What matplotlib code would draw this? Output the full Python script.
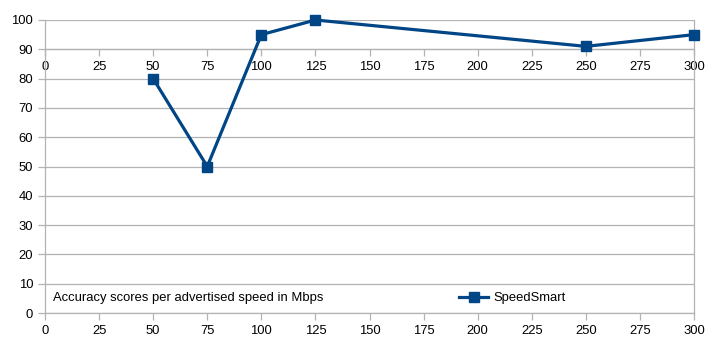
import matplotlib
matplotlib.use("Agg")
import matplotlib.pyplot as plt

plt.rcParams['font.family'] = ['Liberation Sans', 'DejaVu Sans']

speeds = [50, 75, 100, 125, 250, 300]
scores = [80, 50, 95, 100, 91, 95]
x_ticks = list(range(0, 301, 25))
y_ticks = list(range(0, 101, 10))
series_name = "SpeedSmart"
note = "Accuracy scores per advertised speed in Mbps"

color = "#004586"
grid_c = "#b3b3b3"
fs = 9.4

fig = plt.figure(figsize=(7.2, 3.45), dpi=100)
ax = fig.add_axes([45/720, 32/345, 649/720, 293/345])
ax.plot(speeds, scores, color=color, lw=2.3, marker='s', ms=7.5, label=series_name,
        clip_on=False, zorder=5)
ax.set_xlim(0, 300)
ax.set_ylim(0, 100)
ax.set_xticks(x_ticks)
ax.set_yticks(y_ticks)
ax.grid(axis='y', color=grid_c, lw=0.9)
ax.set_axisbelow(True)
for s in ax.spines.values():
    s.set_color(grid_c)
    s.set_linewidth(0.9)
ax.spines['top'].set_visible(False)
ax.tick_params(axis='both', colors=grid_c, labelcolor='black', labelsize=fs, length=5, width=0.9)

sec = ax.secondary_xaxis(0.9)
sec.set_alignment('bottom')
sec.set_xticks(x_ticks)
sec.spines['bottom'].set_color(grid_c)
sec.spines['bottom'].set_linewidth(0.9)
sec.tick_params(axis='x', colors=grid_c, labelcolor='black', labelsize=fs, length=5, width=0.9)

ax.text(0.013, 0.05, note, transform=ax.transAxes, fontsize=fs, va='center', ha='left')
ax.legend(loc='center', bbox_to_anchor=(0.72, 0.05), frameon=False, fontsize=fs,
          handlelength=2.2, handletextpad=0.4, borderaxespad=0)

fig.savefig("out.png", dpi=100)
